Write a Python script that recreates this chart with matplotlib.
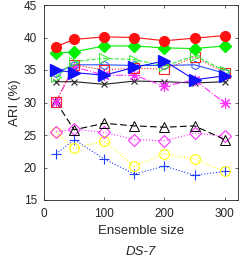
import matplotlib
matplotlib.use("Agg")
import matplotlib.pyplot as plt

plt.rcParams['font.family'] = ['Liberation Sans', 'DejaVu Sans']

sizes = [20, 50, 100, 150, 200, 250, 300]

ari_red_circle = [38.6, 39.7, 40.1, 40.0, 39.5, 39.9, 40.3]
ari_green_diamond = [37.6, 37.8, 38.7, 38.7, 38.4, 38.3, 38.7]
ari_green_tri = [33.9, 36.3, 36.8, 36.6, 35.6, 37.2, 34.9]
ari_red_square = [30.1, 35.8, 35.0, 35.3, 35.1, 37.0, 34.6]
ari_blue_hex = [34.6, 35.8, 35.8, 35.7, 35.7, 35.8, 34.5]
ari_blue_tri = [35.0, 34.6, 34.2, 35.4, 36.4, 33.5, 34.1]
ari_magenta_star = [30.1, 35.5, 34.2, 34.2, 32.5, 33.5, 29.9]
ari_black_x = [33.2, 33.2, 32.8, 33.3, 33.2, 33.0, 33.2]
ari_black_tri = [30.1, 25.8, 26.8, 26.4, 26.2, 26.4, 24.3]
ari_magenta_diamond = [25.5, 25.9, 25.4, 24.3, 24.1, 25.3, 24.8]
ari_yellow_circle = [25.5, 22.95, 24.1, 20.2, 22.1, 21.3, 19.4]
ari_blue_plus = [22.1, 24.3, 21.3, 19.0, 20.2, 18.8, 19.4]

fig = plt.figure(figsize=(2.41, 2.57), dpi=100)
ax = fig.add_axes([44 / 241, 57 / 257, 194 / 241, 195 / 257])

lw = 0.8
ax.plot(sizes, ari_blue_plus, ':', color='#1f3fff', marker='+', ms=7, mew=0.8, lw=lw)
ax.plot(sizes, ari_yellow_circle, ':', color='#ffff00', marker='o', ms=7, mfc='none', mew=0.8, lw=lw)
ax.plot(sizes, ari_magenta_diamond, ':', color='#ff33ff', marker='D', ms=6, mfc='none', mew=0.8, lw=lw)
ax.plot(sizes, ari_black_tri, '--', color='black', marker='^', ms=7, mfc='none', mew=0.7, lw=lw, dashes=(6, 3))
ax.plot(sizes, ari_black_x, '-', color='#222222', marker='x', ms=5, mew=0.8, lw=lw)
ax.plot(sizes, ari_magenta_star, '-.', color='#ff33ff', marker=(8, 2, 0), ms=8, mew=0.8, lw=lw)
ax.plot(sizes, ari_blue_hex, '-', color='#2a4fff', marker='h', ms=6, mfc='none', mew=0.7, lw=lw)
ax.plot(sizes, ari_red_square, ':', color='#ff2020', marker='s', ms=6.5, mfc='none', mew=0.8, lw=lw)
ax.plot(sizes, ari_green_tri, '--', color='#33ee33', marker='>', ms=7.5, mfc='none', mew=0.7, lw=lw)
ax.plot(sizes, ari_blue_tri, '-', color='#1010ff', marker='>', ms=8.5, lw=lw)
ax.plot(sizes, ari_green_diamond, '-', color='#00ee00', marker='D', ms=6, lw=lw)
ax.plot(sizes, ari_red_circle, '-', color='#ff1010', marker='o', ms=7, lw=lw)

ax.set_xlim(0, 322)
ax.set_ylim(15, 45)
ax.set_xticks([0, 100, 200, 300])
ax.set_yticks([15, 20, 25, 30, 35, 40, 45])
ax.tick_params(direction='in', length=2.5, width=0.5, labelsize=8.5, colors='#262626',
               top=True, right=True, pad=5)
ax.tick_params(axis='x', pad=6)
for s in ax.spines.values():
    s.set_linewidth(0.6)
    s.set_color('#262626')

ax.set_ylabel('ARI (%)', fontsize=9.5, color='#262626', labelpad=2)
ax.set_xlabel('Ensemble size', fontsize=9.5, color='#262626', labelpad=3)
fig.text((44 + 97) / 241, 1 - 252 / 257, 'DS-7', fontsize=9.5,
         style='italic', color='#262626', ha='center', va='center')

fig.savefig('out.png', dpi=100)
